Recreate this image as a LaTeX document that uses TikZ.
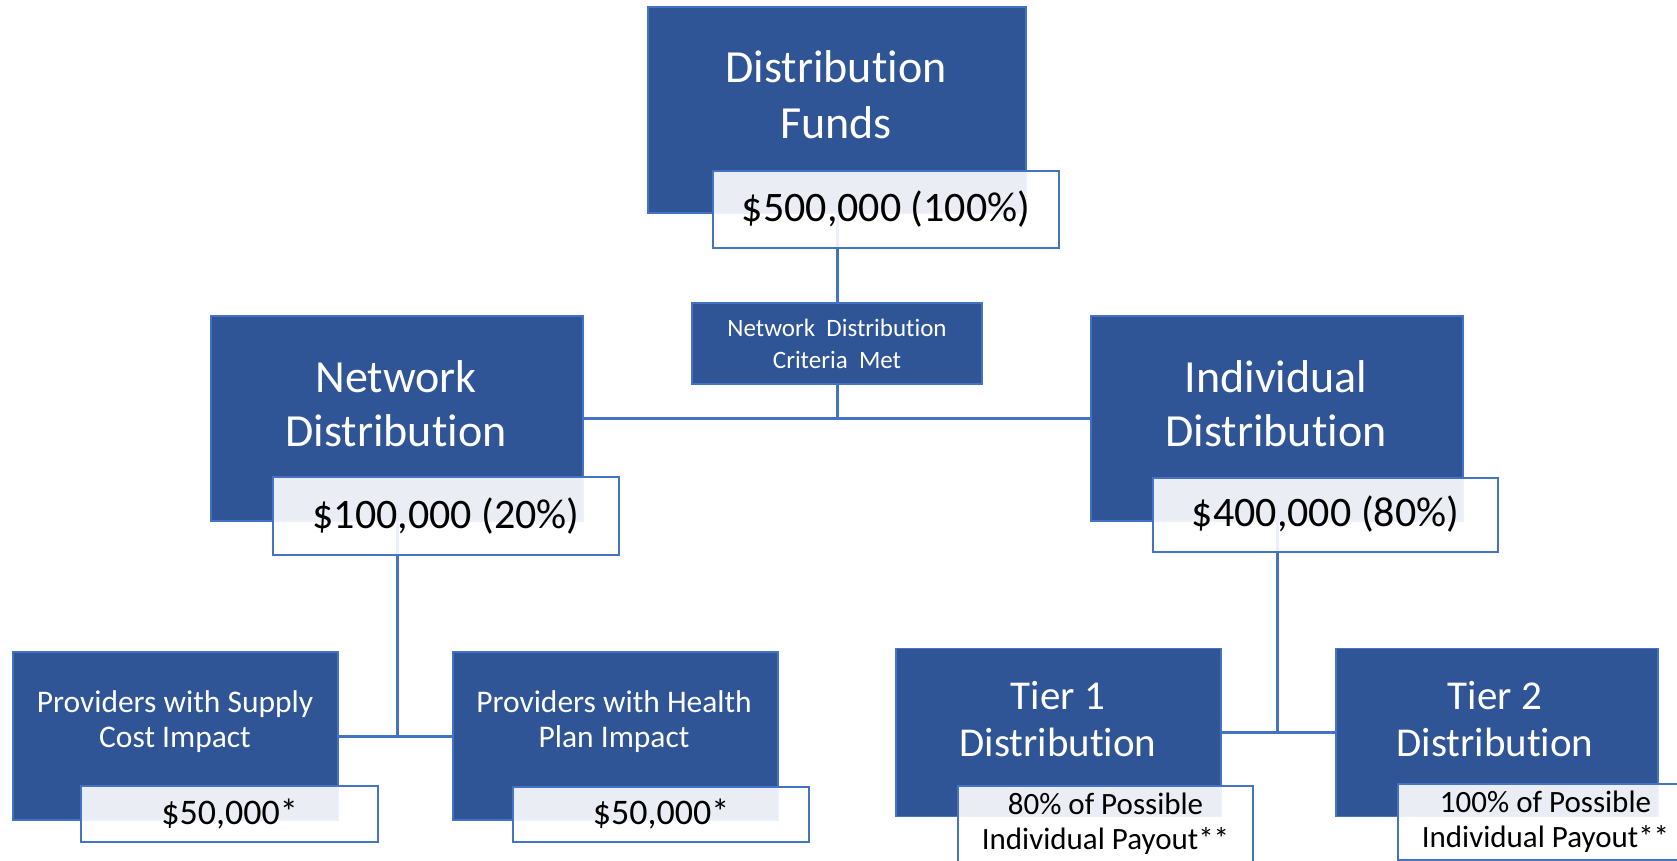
\documentclass[tikz,border=0pt]{standalone}
\usepackage{fontspec}
\setmainfont{Carlito}[Ligatures=NoCommon]
\definecolor{boxblue}{RGB}{47,85,151}
\definecolor{lineblue}{RGB}{68,114,196}
\tikzset{
  unitbox/.style={draw=lineblue, line width=1.2pt, fill=boxblue, inner sep=0pt},
  title/.style={text=white, align=center, inner sep=0pt},
  amount/.style={draw=lineblue, line width=2pt, fill=white, fill opacity=0.9, text opacity=1, inner sep=0pt, align=center},
  link/.style={draw=lineblue, line width=3pt},
}

\begin{document}
\begin{tikzpicture}[x=1pt, y=-1pt]
\useasboundingbox (0,0) rectangle (1677,861);
% blue boxes
\node (fund) [unitbox, minimum width=378pt, minimum height=206pt] at (837,110) {};
\node (crit) [unitbox, title, minimum width=290pt, minimum height=81pt, font=\fontsize{25}{32}\selectfont] at (837,343.5) {Network\ \ Distribution\\Criteria\ \ Met};
\node (net) [unitbox, minimum width=372pt, minimum height=205pt] at (397,418.5) {};
\node (ind) [unitbox, minimum width=372pt, minimum height=205pt] at (1277,418.5) {};
\node (sup) [unitbox, minimum width=325pt, minimum height=168pt] at (175.5,736) {};
\node (hlth) [unitbox, minimum width=325pt, minimum height=168pt] at (615.5,736) {};
\node (tier1) [unitbox, minimum width=325pt, minimum height=168pt] at (1058.5,732.5) {};
\node (tier2) [unitbox, minimum width=322pt, minimum height=168pt] at (1497,732.5) {};
% box titles
\node (fundtxt) [title, font=\fontsize{46}{56}\selectfont] at (836,95) {Distribution\\Funds};
\node (nettxt) [title, font=\fontsize{46}{54}\selectfont] at (396,404) {Network\\Distribution};
\node (indtxt) [title, font=\fontsize{46}{54}\selectfont] at (1276,404) {Individual\\Distribution};
\node (suptxt) [title, font=\fontsize{31.5}{35}\selectfont] at (175,722) {Providers with Supply\\Cost Impact};
\node (hlthtxt) [title, font=\fontsize{31.5}{35}\selectfont] at (614,722) {Providers with Health\\Plan Impact};
\node (tier1txt) [title, font=\fontsize{41}{47}\selectfont] at (1058,719) {Tier 1\\Distribution};
\node (tier2txt) [title, font=\fontsize{41}{47}\selectfont] at (1495,719) {Tier 2\\Distribution};
% connectors
\path [link] (fund.south) -- (fund.south |- crit.north);
\path [link] (crit.south) -- (crit.south |- net.east);
\path [link] (net.east) -- (ind.west);
\path [link] (net.south) -- (net.south |- sup.east);
\path [link] (sup.east) -- (hlth.west);
\path [link] (ind.south) -- (ind.south |- tier1.east);
\path [link] (tier1.east) -- (tier2.west);
% amounts
\node (fundamt) [amount, minimum width=346pt, minimum height=77pt, font=\fontsize{42}{50}\selectfont] at (886,209.5) {\$500,000 (100\%)};
\node (netamt) [amount, minimum width=346pt, minimum height=78pt, font=\fontsize{42}{50}\selectfont] at (446,516) {\$100,000 (20\%)};
\node (indamt) [amount, minimum width=345pt, minimum height=74pt, font=\fontsize{42}{50}\selectfont] at (1325.5,514.5) {\$400,000 (80\%)};
\node (supamt) [amount, minimum width=297pt, minimum height=56pt, font=\fontsize{36}{42}\selectfont] at (229.5,814) {\$50,000*};
\node (hlthamt) [amount, minimum width=296pt, minimum height=55pt, font=\fontsize{36}{42}\selectfont] at (661,814.5) {\$50,000*};
\node (tier1amt) [amount, minimum width=295pt, minimum height=76pt, font=\fontsize{31}{35}\selectfont] at (1105.5,824) {80\% of Possible\\Individual Payout**};
\node (tier2amt) [amount, minimum width=295pt, minimum height=76pt, font=\fontsize{31}{35}\selectfont] at (1545.5,822) {100\% of Possible\\Individual Payout**};
\end{tikzpicture}
\end{document}
